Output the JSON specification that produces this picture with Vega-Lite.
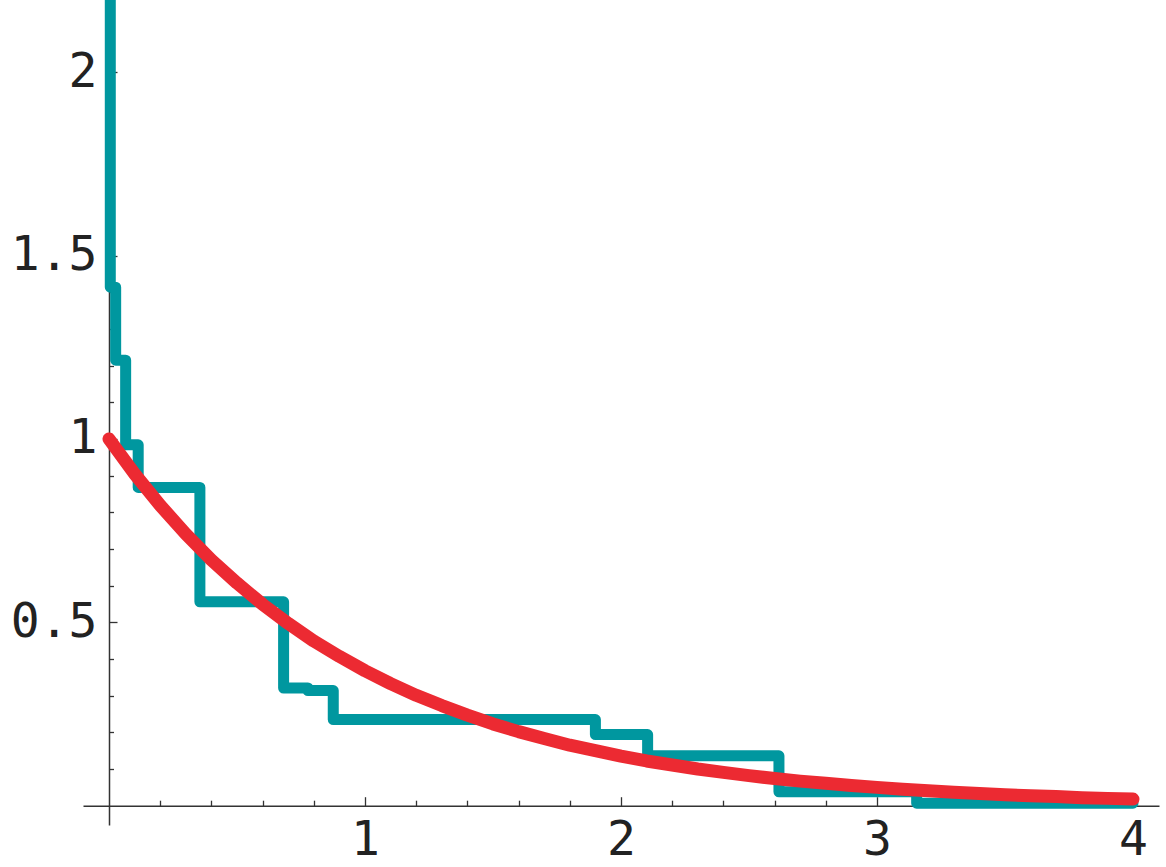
{
  "$schema": "https://vega.github.io/schema/vega-lite/v6.json",
  "width": 1076,
  "height": 825,
  "autosize": {"type": "none"},
  "padding": {"left": 83, "top": 0, "right": 7, "bottom": 42},
  "background": "white",
  "config": {
    "view": {"stroke": null},
    "axis": {
      "grid": false,
      "title": null,
      "domainColor": "#333333",
      "tickColor": "#333333",
      "labelColor": "#222222",
      "labelFont": "DejaVu Sans Mono",
      "labelFontSize": 48,
      "labelFontWeight": "normal",
      "domainWidth": 1.5,
      "tickWidth": 1.3,
      "labelFlush": false,
      "labelOverlap": false
    }
  },
  "layer": [
    {
      "data": {
        "values": [
          {"i": 0, "x": 0.005, "y": 2.6},
          {"i": 1, "x": 0.005, "y": 1.414},
          {"i": 2, "x": 0.026, "y": 1.215},
          {"i": 3, "x": 0.065, "y": 0.984},
          {"i": 4, "x": 0.114, "y": 0.868},
          {"i": 5, "x": 0.355, "y": 0.556},
          {"i": 6, "x": 0.682, "y": 0.321},
          {"i": 7, "x": 0.777, "y": 0.314},
          {"i": 8, "x": 0.876, "y": 0.235},
          {"i": 9, "x": 1.9, "y": 0.194},
          {"i": 10, "x": 2.104, "y": 0.136},
          {"i": 11, "x": 2.617, "y": 0.038},
          {"i": 12, "x": 3.155, "y": 0.007},
          {"i": 13, "x": 4.0, "y": 0.007}
        ]
      },
      "mark": {"type": "line", "interpolate": "step-after", "color": "#00979F", "strokeWidth": 11, "strokeJoin": "round", "strokeCap": "round", "clip": true},
      "encoding": {
        "x": {
          "field": "x", "type": "quantitative",
          "scale": {"domain": [-0.1016, 4.1016], "nice": false, "zero": false},
          "axis": {"orient": "bottom", "offset": -19.3, "values": [0.2, 0.4, 0.6, 0.8, 1.2, 1.4, 1.6, 1.8, 2.2, 2.4, 2.6, 2.8, 3.2, 3.4, 3.6, 3.8], "tickSize": -5.5, "labels": false, "domain": true}
        },
        "y": {
          "field": "y", "type": "quantitative",
          "scale": {"domain": [-0.0526, 2.197], "nice": false, "zero": false},
          "axis": {"orient": "left", "offset": -26, "values": [0.1, 0.2, 0.3, 0.4, 0.6, 0.7, 0.8, 0.9, 1.1, 1.2, 1.3, 1.4, 1.6, 1.7, 1.8, 1.9, 2.1], "tickSize": -4.5, "labels": false, "domain": true}
        },
        "order": {"field": "i", "type": "quantitative"}
      }
    },
    {
      "data": {
        "values": [
          {"x": 0.0, "y": 1.0}, {"x": 0.1, "y": 0.905}, {"x": 0.2, "y": 0.819}, {"x": 0.3, "y": 0.741},
          {"x": 0.4, "y": 0.670}, {"x": 0.5, "y": 0.607}, {"x": 0.6, "y": 0.549}, {"x": 0.7, "y": 0.497},
          {"x": 0.8, "y": 0.449}, {"x": 0.9, "y": 0.407}, {"x": 1.0, "y": 0.368}, {"x": 1.1, "y": 0.333},
          {"x": 1.2, "y": 0.301}, {"x": 1.3, "y": 0.273}, {"x": 1.4, "y": 0.247}, {"x": 1.5, "y": 0.223},
          {"x": 1.6, "y": 0.202}, {"x": 1.7, "y": 0.183}, {"x": 1.8, "y": 0.165}, {"x": 1.9, "y": 0.150},
          {"x": 2.0, "y": 0.135}, {"x": 2.1, "y": 0.122}, {"x": 2.2, "y": 0.111}, {"x": 2.3, "y": 0.100},
          {"x": 2.4, "y": 0.091}, {"x": 2.5, "y": 0.082}, {"x": 2.6, "y": 0.074}, {"x": 2.7, "y": 0.067},
          {"x": 2.8, "y": 0.061}, {"x": 2.9, "y": 0.055}, {"x": 3.0, "y": 0.050}, {"x": 3.1, "y": 0.045},
          {"x": 3.2, "y": 0.041}, {"x": 3.3, "y": 0.037}, {"x": 3.4, "y": 0.033}, {"x": 3.5, "y": 0.030},
          {"x": 3.6, "y": 0.027}, {"x": 3.7, "y": 0.025}, {"x": 3.8, "y": 0.022}, {"x": 3.9, "y": 0.020},
          {"x": 4.0, "y": 0.018}
        ]
      },
      "mark": {"type": "line", "color": "#EC2A32", "strokeWidth": 13, "strokeJoin": "round", "strokeCap": "round", "clip": true},
      "encoding": {
        "x": {
          "field": "x", "type": "quantitative",
          "scale": {"domain": [-0.1016, 4.1016], "nice": false, "zero": false},
          "axis": {"orient": "bottom", "offset": -19.3, "values": [1, 2, 3, 4], "tickSize": -9, "domain": false, "labelPadding": 20, "format": "~g"}
        },
        "y": {
          "field": "y", "type": "quantitative",
          "scale": {"domain": [-0.0526, 2.197], "nice": false, "zero": false},
          "axis": {"orient": "left", "offset": -26, "values": [0.5, 1, 1.5, 2], "tickSize": -8, "domain": false, "labelPadding": 20, "format": "~g"}
        }
      }
    }
  ],
  "resolve": {"axis": {"x": "independent", "y": "independent"}}
}
